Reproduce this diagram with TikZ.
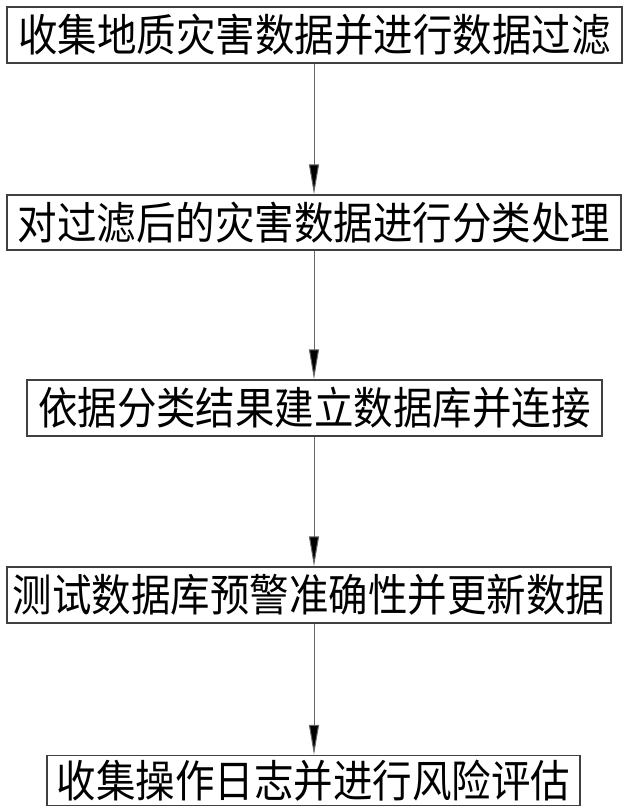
\documentclass[tikz,border=0pt]{standalone}
\usepackage{fontspec}
\newfontfamily\cjk{Noto Sans CJK SC}
\usetikzlibrary{arrows.meta}
\tikzset{
  stepbox/.style={draw=black!75, line width=1.4pt, inner sep=0pt, anchor=center,
    font=\cjk\fontsize{39.5pt}{40pt}\selectfont},
  flowarrow/.style={draw=black!60, line width=1pt, -{Triangle[length=30pt,width=10pt,fill=black]}, shorten >=0pt}
}
\newcommand{\tallt}[1]{\scalebox{1}[1.12]{#1}}
\begin{document}
\begin{tikzpicture}[x=1pt,y=-1pt]
\useasboundingbox (0,0) rectangle (628,812);
\node[stepbox, minimum width=615pt, minimum height=56pt] (s1) at (314.5,35) {\tallt{收集地质灾害数据并进行数据过滤}};
\node[stepbox, minimum width=614pt, minimum height=55pt] (s2) at (314,222.5) {\tallt{对过滤后的灾害数据进行分类处理}};
\node[stepbox, minimum width=575pt, minimum height=56pt] (s3) at (314.5,408) {\tallt{依据分类结果建立数据库并连接}};
\node[stepbox, minimum width=604pt, minimum height=56pt] (s4) at (309,595) {\tallt{测试数据库预警准确性并更新数据}};
\node[stepbox, minimum width=533pt, minimum height=50pt] (s5) at (313.5,780.5) {\tallt{收集操作日志并进行风险评估}};
\draw[flowarrow] (s1.south -| 314,0) -- (s2.north -| 314,0);
\draw[flowarrow] (s2.south -| 314,0) -- (s3.north -| 314,0);
\draw[flowarrow] (s3.south -| 314,0) -- (s4.north -| 314,0);
\draw[flowarrow] (s4.south -| 314,0) -- (s5.north -| 314,0);
\end{tikzpicture}
\end{document}
